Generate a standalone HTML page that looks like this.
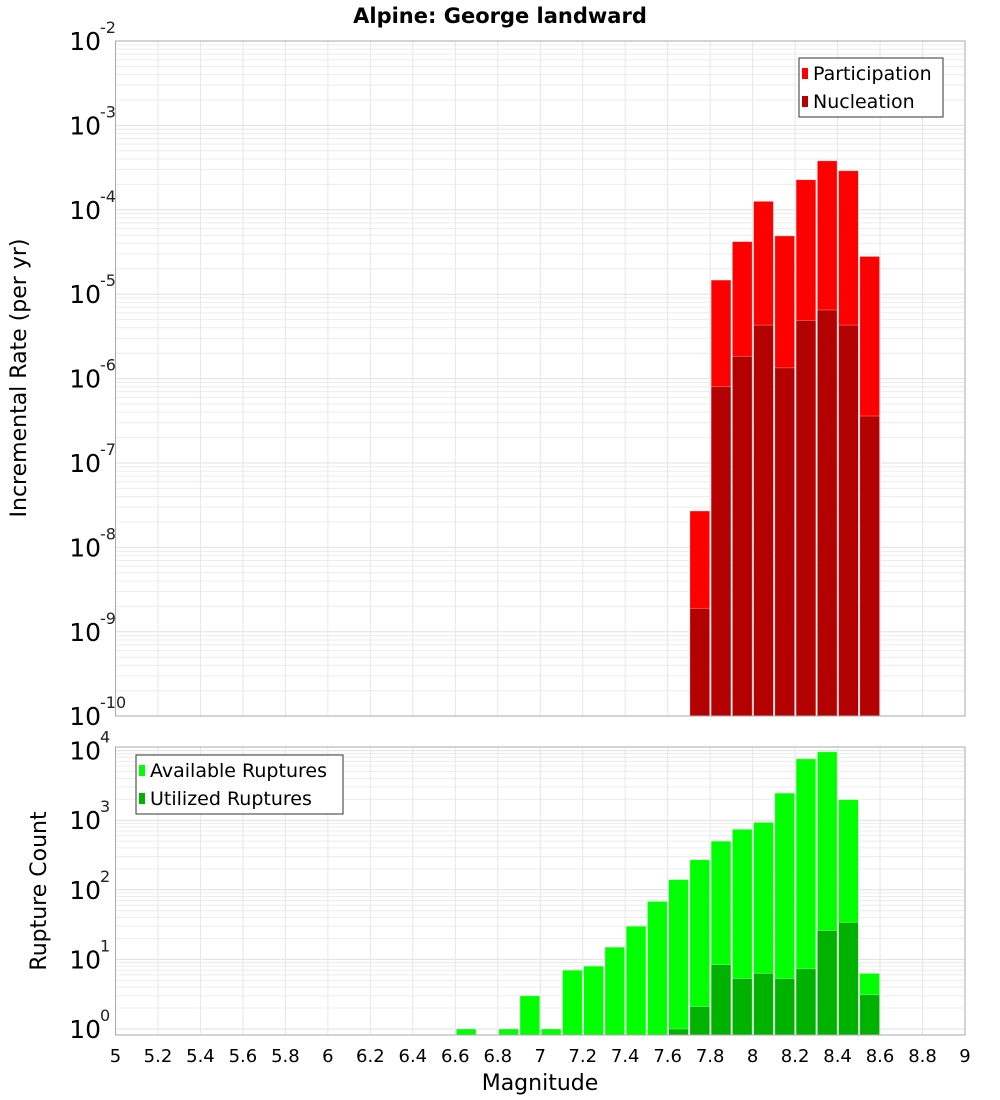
<!DOCTYPE html>
<html><head><meta charset="utf-8"><style>
html,body{margin:0;padding:0;background:#fff;}
svg{display:block;font-family:"Liberation Sans","DejaVu Sans",sans-serif;}
</style></head><body>
<svg id="chart" width="1000" height="1100" viewBox="0 0 1000 1100" xmlns="http://www.w3.org/2000/svg">
<text x="500" y="23" text-anchor="middle" font-size="21" font-weight="bold" font-family="DejaVu Sans, sans-serif">Alpine: George landward</text>
<g id="top"></g>
<g id="bot"></g>
<text transform="translate(26,378) rotate(-90)" text-anchor="middle" font-size="22" font-family="DejaVu Sans, sans-serif">Incremental Rate (per yr)</text>
<text transform="translate(46,891) rotate(-90)" text-anchor="middle" font-size="22" font-family="DejaVu Sans, sans-serif">Rupture Count</text>
<text x="540" y="1090" text-anchor="middle" font-size="22" font-family="DejaVu Sans, sans-serif">Magnitude</text>
</svg>
<script>
// Data
const magBins = [6.6,6.7,6.8,6.9,7.0,7.1,7.2,7.3,7.4,7.5,7.6,7.7,7.8,7.9,8.0,8.1,8.2,8.3,8.4,8.5];
const participation = [0,0,0,0,0,0,0,0,0,0,0,2.7e-8,1.47e-5,4.2e-5,1.26e-4,4.9e-5,2.27e-4,3.8e-4,2.9e-4,2.8e-5];
const nucleation = [0,0,0,0,0,0,0,0,0,0,0,1.9e-9,8.0e-7,1.84e-6,4.3e-6,1.34e-6,4.9e-6,6.5e-6,4.3e-6,3.6e-7];
const available = [1,0,1,3,1,7,8,15,30,68,140,270,500,740,930,2450,7600,9600,1970,6.3];
const utilized = [0,0,0,0,0,0,0,0,0,0,1,2.1,8.4,5.3,6.3,5.3,7.3,26,34,3.1];
const xTicks = [5,5.2,5.4,5.6,5.8,6,6.2,6.4,6.6,6.8,7,7.2,7.4,7.6,7.8,8,8.2,8.4,8.6,8.8,9];
const topExps = [-2,-3,-4,-5,-6,-7,-8,-9,-10];
const botExps = [0,1,2,3,4];

const NS="http://www.w3.org/2000/svg";
const L=115.5,R=965;
const xs=m=>L+(m-5)*(R-L)/4;
const ysTop=v=>41+(-2-Math.log10(v))*84.4;
const ysBot=v=>1029-Math.log10(v)*69.6;
function mk(p,t,a){const e=document.createElementNS(NS,t);for(const k in a)e.setAttribute(k,a[k]);p.appendChild(e);return e;}

function panel(g,top,bot,ys,lo,hi,exps,name){
  mk(g,'rect',{x:L,y:top,width:R-L,height:bot-top,fill:'#fff'});
  for(let e=lo;e<hi;e++)for(let k=1;k<10;k++){const y=ys(k*Math.pow(10,e));if(y<top||y>bot)continue;
    const ln=mk(g,'line',{x1:L,x2:R,y1:y,y2:y,stroke:k==1?'#e0e0e0':'#ececec','stroke-width':1});
    }
  xTicks.forEach(t=>{const x=xs(t);const ln=mk(g,'line',{x1:x,x2:x,y1:top,y2:bot,stroke:'#e6e6e6'});
    });
  exps.forEach(e=>{const y=ys(Math.pow(10,e));
    const t=mk(g,'text',{x:101,y:y+9,'text-anchor':'end','font-size':25,'font-family':'DejaVu Sans, sans-serif'});t.textContent='10';
    
    const s=mk(g,'text',{x:100,y:y-8,'font-size':16,'font-family':'DejaVu Sans, sans-serif',fill:'#222'});s.textContent=String(e);
    });
}
const gt=document.getElementById('top'),gb=document.getElementById('bot');
panel(gt,41,716,ysTop,-10,-2,topExps,'rate');
panel(gb,747,1035,ysBot,0,5,botExps,'count');
const bw=(R-L)/40;
function bars(g,vals,ys,bottom,color,name){
  magBins.forEach((m,i)=>{const v=vals[i];if(!v)return;let y=Math.max(ys(v),g===gt?41:747);
    const r=mk(g,'rect',{x:xs(m)+1,y:y,width:bw-1.5,height:bottom-y,fill:color,stroke:'rgba(255,255,255,0.5)','stroke-width':0.6});
    });
}
bars(gt,participation,ysTop,716,'#ff0000','participation');
bars(gt,nucleation,ysTop,716,'#b30000','nucleation');
bars(gb,available,ysBot,1035,'#00ff00','available');
bars(gb,utilized,ysBot,1035,'#00b200','utilized');
mk(gt,'rect',{x:L,y:41,width:R-L,height:675,fill:'none',stroke:'#aaa'});
mk(gb,'rect',{x:L,y:747,width:R-L,height:288,fill:'none',stroke:'#aaa'});
xTicks.forEach(t=>{const e=mk(gb,'text',{x:xs(t),y:1062,'text-anchor':'middle','font-size':18,'font-family':'DejaVu Sans, sans-serif'});
  e.textContent=String(t);});
function legend(g,x,y,w,items,name){
  const bx=mk(g,'rect',{x:x,y:y,width:w,height:59,fill:'#fff',stroke:'#333'});
  
  items.forEach((it,i)=>{const cy=y+15+i*28;
    const sw=mk(g,'rect',{x:x+3,y:cy-5,width:6,height:11,fill:it[1]});
    
    const t=mk(g,'text',{x:x+14,y:cy+7,'font-size':19,'font-family':'DejaVu Sans, sans-serif'});t.textContent=it[0];
    });
}
legend(gt,799,58,144,[['Participation','#ff0000'],['Nucleation','#b30000']],'rate-legend');
legend(gb,136,755,207,[['Available Ruptures','#00ff00'],['Utilized Ruptures','#00b200']],'count-legend');
</script>
</body></html>
